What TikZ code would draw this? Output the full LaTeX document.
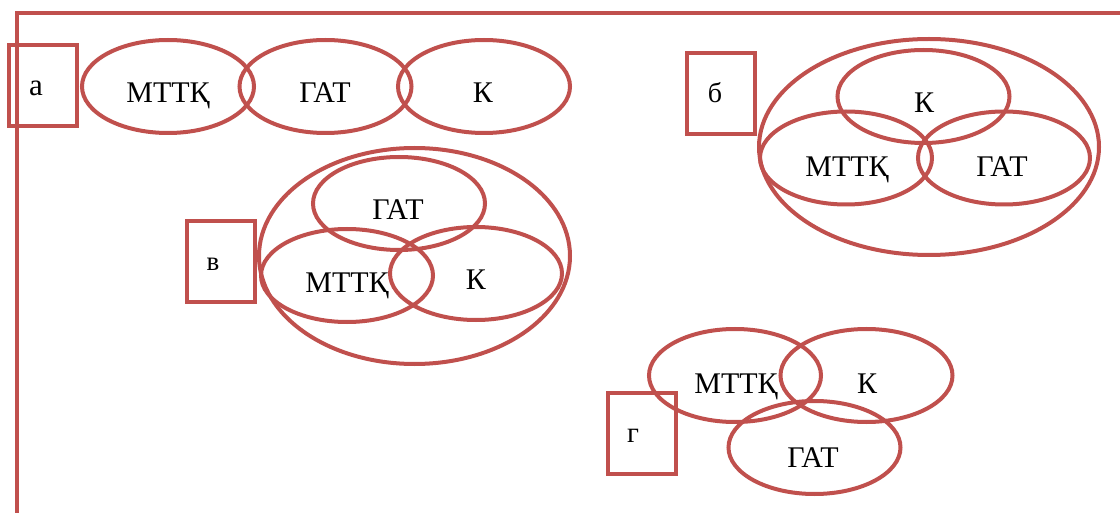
\documentclass[tikz,border=0pt]{standalone}
\usepackage{fontspec}
\setmainfont{Liberation Serif}
\usetikzlibrary{shapes.geometric}
\definecolor{venred}{HTML}{C0504D}
\tikzset{
  set/.style={ellipse, draw=venred, line width=4pt, inner sep=0pt, minimum width=172pt, minimum height=93pt},
  outerset/.style={ellipse, draw=venred, line width=4pt, inner sep=0pt},
  tag/.style={draw=venred, line width=3.8pt, inner sep=0pt, minimum width=68pt, minimum height=81pt},
  lbl/.style={anchor=base, inner sep=0pt, font=\fontsize{30}{31}\selectfont},
  frame/.style={draw=venred, line width=4pt}
}
\begin{document}
\begin{tikzpicture}[x=1pt, y=-1pt]
\useasboundingbox (0,0) rectangle (1120,513);
% frame
\coordinate (fTR) at (1122,13);
\coordinate (fTL) at (17,13);
\coordinate (fBL) at (17,515);
\draw[frame] (fTR) -- (fTL) -- (fBL);

% group a
\node[tag] (boxA) at (43,85.5) {};
\node[lbl, font=\fontsize{31}{32}\selectfont] (tA) at (36,96) {а};
\node[set] (aM) at (168,86.5) {};
\node[set] (aG) at (325.5,86.5) {};
\node[set] (aK) at (484,86.5) {};
\node[lbl] (aMt) at (168,103) {МТТҚ};
\node[lbl] (aGt) at (325,103) {ГАТ};
\node[lbl] (aKt) at (483,103) {К};

% group b
\node[tag] (boxB) at (721,93.5) {};
\node[lbl, font=\fontsize{28}{29}\selectfont] (tB) at (715,103) {б};
\node[outerset, minimum width=340pt, minimum height=216pt] (bAll) at (929,147) {};
\node[set] (bK) at (923.5,96.5) {};
\node[set] (bM) at (846,158) {};
\node[set] (bG) at (1004,158) {};
\node[lbl] (bKt) at (924,113) {К};
\node[lbl] (bMt) at (847,177) {МТТҚ};
\node[lbl] (bGt) at (1002,177) {ГАТ};

% group v
\node[tag] (boxV) at (221,261.5) {};
\node[lbl, font=\fontsize{27}{28}\selectfont] (tV) at (213,271) {в};
\node[outerset, minimum width=311pt, minimum height=216pt] (vAll) at (414.5,256) {};
\node[set] (vG) at (399,203.5) {};
\node[set] (vM) at (347,275.5) {};
\node[set] (vK) at (476,273.5) {};
\node[lbl] (vGt) at (398,220) {ГАТ};
\node[lbl] (vMt) at (347,293) {МТТҚ};
\node[lbl] (vKt) at (476,290) {К};

% group g
\node[tag] (boxG) at (642,433.5) {};
\node[lbl, font=\fontsize{29}{30}\selectfont] (tG) at (633,442) {г};
\node[set] (gM) at (735,375.5) {};
\node[set] (gK) at (866.5,375.5) {};
\node[set] (gG) at (814.5,447.5) {};
\node[lbl] (gMt) at (736,393) {МТТҚ};
\node[lbl] (gKt) at (867,393) {К};
\node[lbl] (gGt) at (813,467) {ГАТ};
\end{tikzpicture}
\end{document}
